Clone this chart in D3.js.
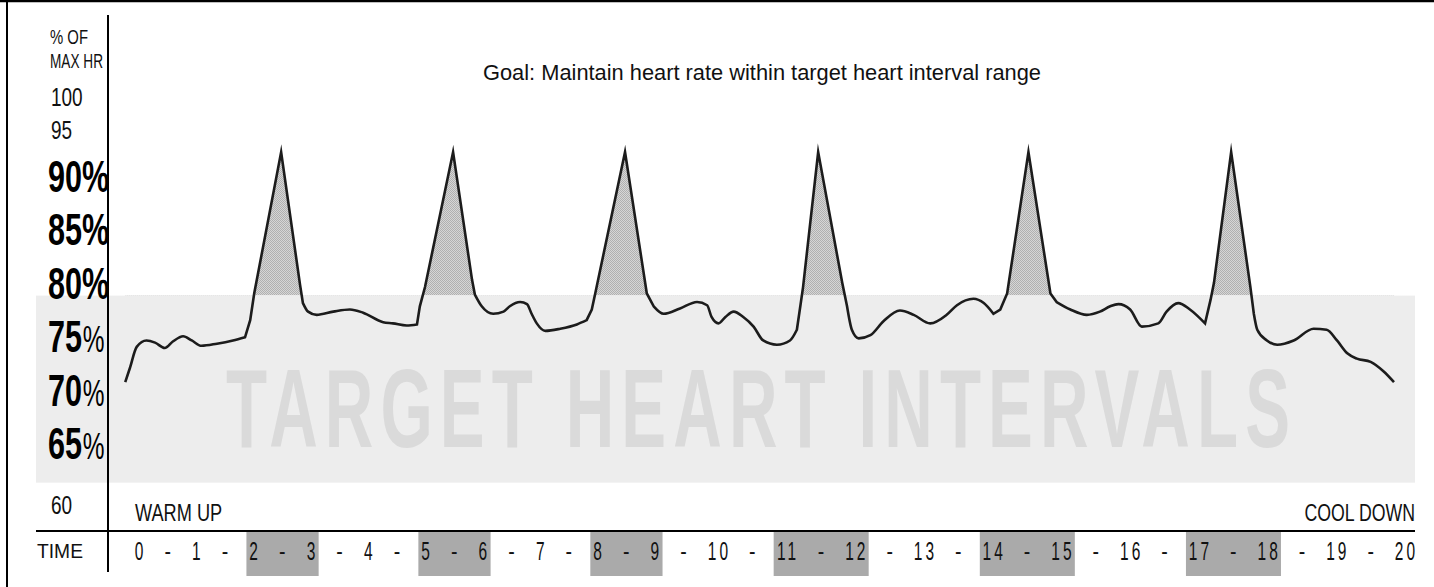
<!DOCTYPE html>
<html>
<head>
<meta charset="utf-8">
<script src="https://cdn.jsdelivr.net/npm/d3@7"></script>
<style>
html,body{margin:0;padding:0;background:#fff;}
svg{display:block;}
</style>
</head>
<body>
<svg id="chart" width="1434" height="587"></svg>
<script>
// ---------------- data ----------------
const timeLabels = ["0","1","2","3","4","5","6","7","8","9","10","11","12","13","14","15","16","17","18","19","20"];
const intervalPairs = [[2,3],[5,6],[8,9],[11,12],[14,15],[17,18]];
const yTickValues = [100,95,90,85,80,75,70,65,60];
const yTickLabels = ["100","95","90","85","80","75","70","65","60"];
const targetBand = [61.8, 78.8];
const hrTime = [-0.24,-0.16,-0.04,0.13,0.28,0.45,0.59,0.77,0.92,1.09,1.36,1.64,1.85,1.94,2.01,2.48,
  2.81,2.86,2.95,3.10,3.39,3.68,3.91,4.26,4.43,4.67,4.85,4.90,4.99,5.48,
  5.81,5.86,5.98,6.18,6.36,6.47,6.65,6.77,6.85,6.94,7.09,7.35,7.64,7.81,7.90,7.96,8.48,
  8.86,8.98,9.14,9.40,9.67,9.83,9.90,10.01,10.11,10.23,10.37,10.52,10.66,10.86,11.05,11.15,11.20,11.24,11.46,
  11.81,11.88,11.95,12.05,12.22,12.41,12.65,12.85,13.09,13.33,13.48,13.72,13.87,14.01,14.11,14.21,14.52,
  14.84,14.93,15.13,15.37,15.56,15.71,15.83,16.00,16.17,16.41,16.53,16.70,16.87,17.09,17.17,17.22,17.47,
  17.75,17.80,17.85,17.99,18.14,18.38,18.67,18.86,19.01,19.16,19.30,19.50,19.69,19.84];
const hrValue = [70.7,72.0,74.0,74.6,74.4,73.9,74.5,75.0,74.6,74.1,74.3,74.6,74.9,76.5,79.0,92.6,
  79.8,78.1,77.3,77.0,77.3,77.5,77.2,76.3,76.2,76.0,76.1,77.8,79.6,92.6,
  80.3,78.9,77.8,77.1,77.3,77.8,78.2,78.0,77.1,76.2,75.5,75.7,76.1,76.5,77.5,79.0,92.6,
  79.0,77.8,77.1,77.6,78.2,77.9,76.8,76.2,76.8,77.3,76.8,75.9,74.6,74.2,74.6,75.6,77.8,79.6,92.6,
  80.0,77.8,75.6,74.8,75.1,76.4,77.4,77.0,76.2,77.0,77.9,78.5,78.1,77.1,77.5,79.0,92.6,
  79.0,78.2,77.5,77.0,77.3,77.8,78.0,77.5,75.9,76.2,77.3,78.1,77.5,76.2,78.4,80.0,92.6,
  79.6,77.1,75.6,74.6,74.2,74.6,75.7,75.6,74.6,73.4,72.9,72.6,71.7,70.7];
const titleText = "Goal: Maintain heart rate within target heart interval range";
const watermarkText = "TARGET HEART INTERVALS";
const axisTitleLines = ["% OF", "MAX HR"];
const timeTitle = "TIME";
const phaseLabels = ["WARM UP", "COOL DOWN"];

// ---------------- layout ----------------
const W = 1434, H = 587;
const FONT = "'Liberation Sans', Arial, sans-serif";
const PLOT_LEFT = 36, PLOT_RIGHT = 1415;
const AXIS_X = 108, TIME_LINE_Y = 531;
const svg = d3.select("#chart");

// time tick layout: tokens "0 - 1 - 2 ..." evenly gapped, fit between first/last centres
const DIGIT_ADV = 11.4, DASH_ADV = 6, X_FIRST = 139, X_LAST = 1405;
const adv = timeLabels.map(s => s.length * DIGIT_ADV);
let fixedSum = 0;
for (let i = 0; i < adv.length - 1; i++) fixedSum += adv[i]/2 + adv[i+1]/2 + DASH_ADV;
const gap = (X_LAST - X_FIRST - fixedSum) / (2 * (adv.length - 1));
const centers = [X_FIRST], dashCenters = [];
for (let i = 0; i < adv.length - 1; i++) {
  dashCenters.push(centers[i] + adv[i]/2 + gap + DASH_ADV/2);
  centers.push(centers[i] + adv[i]/2 + adv[i+1]/2 + DASH_ADV + 2*gap);
}
const times = timeLabels.map(Number);
const x = d3.scaleLinear().domain(times).range(centers);
const y = d3.scaleLinear().domain([100,95,90,65,60]).range([97,130,176,443,505]);

// ---------------- defs ----------------
const defs = svg.append("defs");
const pat = defs.append("pattern").attr("id","dither").attr("width",2).attr("height",2)
  .attr("patternUnits","userSpaceOnUse");
pat.append("rect").attr("width",2).attr("height",2).attr("fill","#d6d6d6");
pat.append("rect").attr("width",1).attr("height",1).attr("fill","#b0b0b0");
pat.append("rect").attr("x",1).attr("y",1).attr("width",1).attr("height",1).attr("fill","#b0b0b0");
defs.append("clipPath").attr("id","aboveBand").append("rect")
  .attr("x",0).attr("y",0).attr("width",W).attr("height",y(targetBand[1]));

// ---------------- frame ----------------
svg.append("line").attr("x1",0).attr("x2",W).attr("y1",1).attr("y2",1)
  .attr("stroke","#000").attr("stroke-width",2.5);
svg.append("line").attr("x1",7).attr("x2",7).attr("y1",0).attr("y2",H)
  .attr("stroke","#000").attr("stroke-width",2);

// ---------------- band + watermark ----------------
svg.append("rect").attr("x",PLOT_LEFT).attr("y",y(targetBand[1]))
  .attr("width",PLOT_RIGHT-PLOT_LEFT).attr("height",y(targetBand[0])-y(targetBand[1]))
  .attr("fill","#ededed");

const WM_SX = 0.6, WM_LEFT = 226, WM_WIDTH = 1064;
svg.append("text")
  .attr("transform",`translate(${WM_LEFT},447) scale(${WM_SX},1)`)
  .attr("font-family",FONT).attr("font-weight","bold").attr("font-size",112)
  .attr("fill","#dadada")
  .attr("textLength", WM_WIDTH/WM_SX).attr("lengthAdjust","spacing")
  .text(watermarkText);

// ---------------- heart-rate line ----------------
const pts = hrTime.map((t,i) => ({t, v: hrValue[i]}));
const peakIdx = pts.map((p,i) => i).filter(i => i > 0 && i < pts.length-1 && pts[i].v > 90);
// segments: smooth stretches between peaks, straight flanks up to / down from each peak
const segs = [];
let start = 0;
peakIdx.forEach(p => {
  const L = p - 3, R = p + 2;
  segs.push({pts: pts.slice(start, L+1), curve: d3.curveMonotoneX});
  segs.push({pts: pts.slice(L, R+1), curve: d3.curveLinear});
  start = R;
});
segs.push({pts: pts.slice(start), curve: d3.curveMonotoneX});

function segPath(gen) {
  let d = "";
  segs.forEach((s,k) => {
    const part = gen.curve(s.curve)(s.pts);
    d += k === 0 ? part : part.replace(/^M[^CLZ]*/, "");
  });
  return d;
}
const lineGen = d3.line().x(d => x(d.t)).y(d => y(d.v));
const areaGen = d3.area().x(d => x(d.t)).y0(y(targetBand[1])).y1(d => y(d.v));

svg.append("path").attr("clip-path","url(#aboveBand)")
  .attr("d", segs.map(s => areaGen.curve(s.curve)(s.pts)).join(""))
  .attr("fill","url(#dither)");

svg.append("path").attr("d", segPath(lineGen)).attr("fill","none")
  .attr("stroke","#1c1c1c").attr("stroke-width",2.6)
  .attr("stroke-linejoin","miter").attr("stroke-miterlimit",12);

// ---------------- axes lines ----------------
svg.append("line").attr("x1",AXIS_X).attr("x2",AXIS_X).attr("y1",15).attr("y2",572)
  .attr("stroke","#000").attr("stroke-width",2);
svg.append("line").attr("x1",PLOT_LEFT).attr("x2",PLOT_RIGHT).attr("y1",TIME_LINE_Y).attr("y2",TIME_LINE_Y)
  .attr("stroke","#000").attr("stroke-width",2);

// ---------------- text helpers ----------------
function txt(str, o) {
  const t = svg.append("text").attr("x",o.x).attr("y",o.y)
    .attr("font-family",FONT).attr("font-size",o.size)
    .attr("font-weight",o.weight || "normal").attr("fill",o.fill || "#111")
    .text(str);
  if (o.width) t.attr("textLength",o.width).attr("lengthAdjust","spacingAndGlyphs");
  return t;
}
function ctxt(str, o) { // horizontally condensed via transform
  return svg.append("text")
    .attr("transform",`translate(${o.x},${o.y}) scale(${o.sx},1)`)
    .attr("text-anchor",o.anchor || "start")
    .attr("font-family",FONT).attr("font-size",o.size)
    .attr("fill",o.fill || "#111").text(str);
}

// title
txt(titleText, {x:483, y:80, size:22, width:558});
// y axis title
txt(axisTitleLines[0], {x:50, y:43.5, size:21, width:38});
txt(axisTitleLines[1], {x:50, y:67.5, size:21, width:53});

// y tick labels
const LABEL_LEFT = 48;
yTickValues.forEach((v,i) => {
  const bold = v >= 65 && v <= 90;
  if (bold) {
    const t = svg.append("text")
      .attr("transform",`translate(${LABEL_LEFT},${y(v)+16}) scale(0.68,1)`)
      .attr("font-family",FONT).attr("fill","#000");
    t.append("tspan").attr("font-weight","bold").attr("font-size",45).text(yTickLabels[i]);
    if (v >= 80) t.append("tspan").attr("font-weight","bold").attr("font-size",45).text("%");
    else t.append("tspan").attr("font-weight","normal").attr("font-size",36).attr("dx",1).text("%");
  } else {
    ctxt(yTickLabels[i], {x:LABEL_LEFT+3, y:y(v)+8.5, sx:0.76, size:25});
  }
});

// phase labels
ctxt(phaseLabels[0], {x:135, y:521, sx:0.79, size:23});
ctxt(phaseLabels[1], {x:PLOT_RIGHT, y:521, sx:0.77, size:23, anchor:"end"});

// time axis: interval boxes
const BOX_TOP = 532, BOX_BOTTOM = 576;
intervalPairs.forEach(([a,b]) => {
  const ia = times.indexOf(a), ib = times.indexOf(b);
  const x0 = x(a) - adv[ia]/2 - 1.5, x1 = x(b) + adv[ib]/2 + 2;
  svg.append("rect").attr("x",x0).attr("y",BOX_TOP).attr("width",x1-x0).attr("height",BOX_BOTTOM-BOX_TOP)
    .attr("fill","#aaaaaa");
});

txt(timeTitle, {x:37, y:558, size:21, width:46});

const TSX = 0.62, TBASE = 560;
timeLabels.forEach((s,i) => {
  const ls = s.length > 1 ? 5 : 0;
  svg.append("text")
    .attr("transform",`translate(${x(times[i])},${TBASE}) scale(${TSX},1)`)
    .attr("text-anchor","middle").attr("font-family",FONT).attr("font-size",25)
    .attr("fill","#111").attr("letter-spacing",ls).attr("dx",ls/2)
    .text(s);
});
dashCenters.forEach(cx => {
  svg.append("text")
    .attr("transform",`translate(${cx},${TBASE-1}) scale(0.85,1)`)
    .attr("text-anchor","middle").attr("font-family",FONT).attr("font-size",23)
    .attr("fill","#111").text("-");
});
</script>
</body>
</html>
